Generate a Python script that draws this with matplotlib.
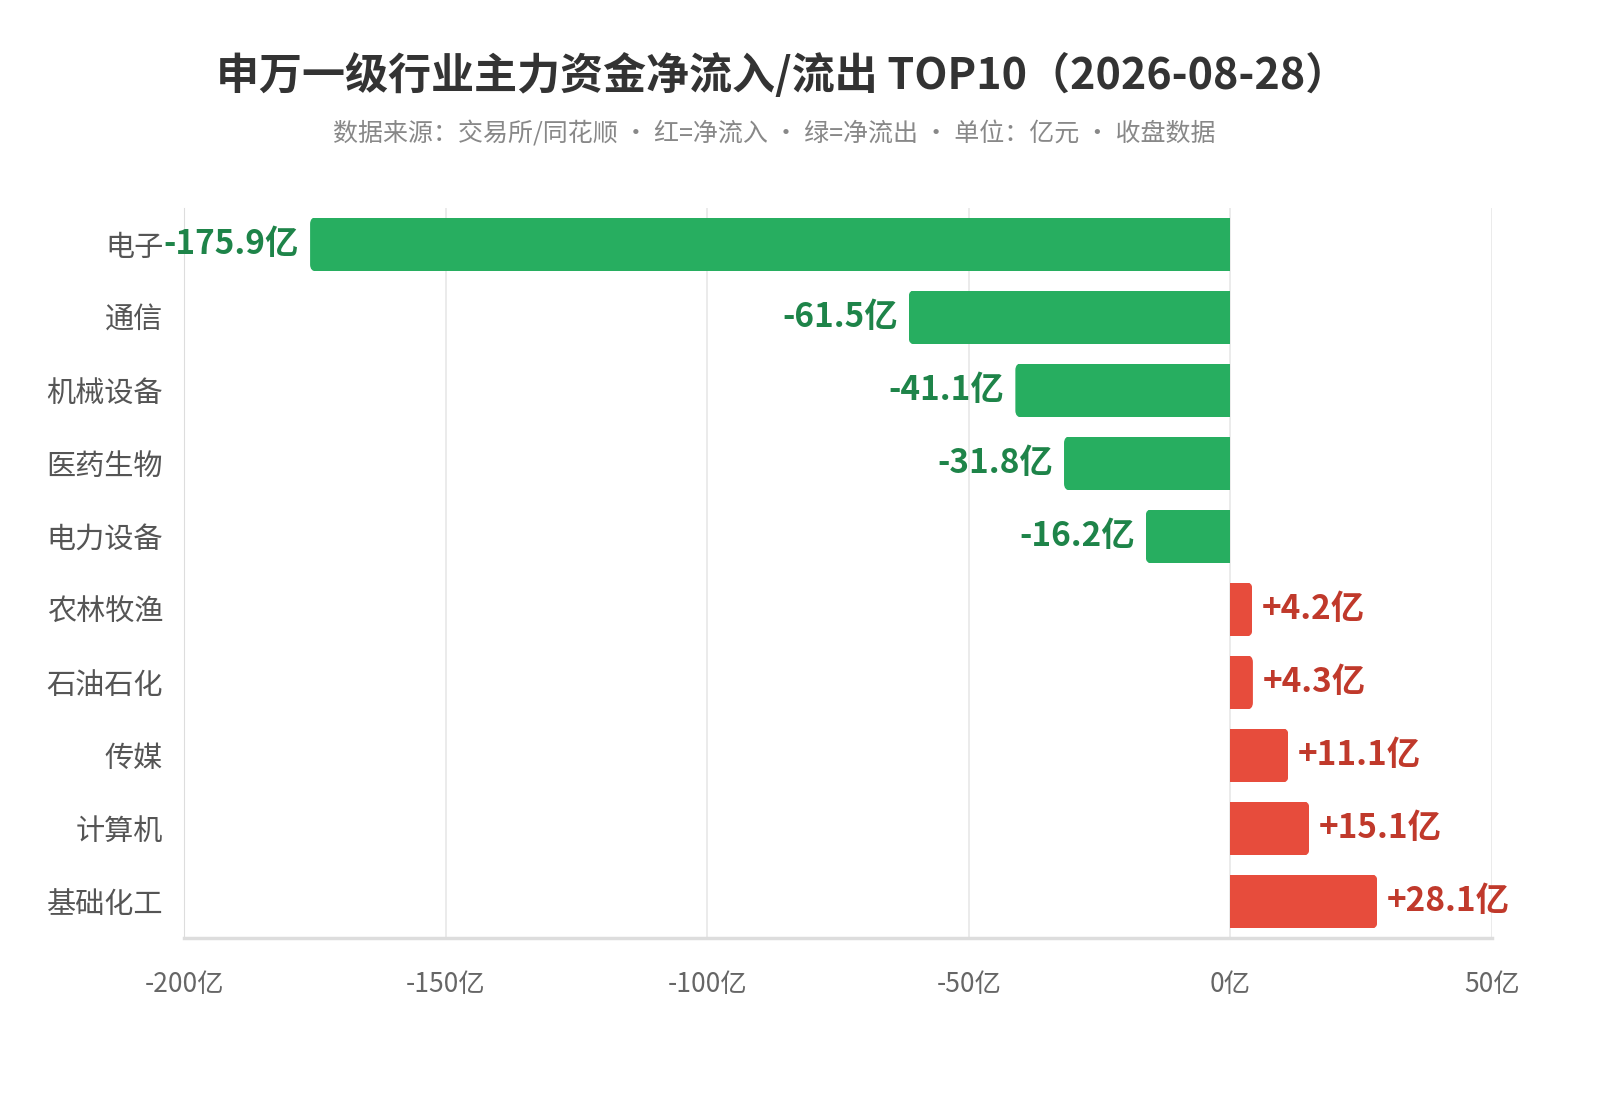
import matplotlib
matplotlib.use("Agg")
import matplotlib.pyplot as plt
from matplotlib.patches import FancyBboxPatch, BoxStyle

plt.rcParams['font.family'] = ['Noto Sans CJK SC', 'DejaVu Sans']

# data, top to bottom
industries = ["电子", "通信", "机械设备", "医药生物", "电力设备",
              "农林牧渔", "石油石化", "传媒", "计算机", "基础化工"]
net_flow = [-175.9, -61.5, -41.1, -31.8, -16.2, 4.2, 4.3, 11.1, 15.1, 28.1]
x_ticks = [-200, -150, -100, -50, 0, 50]

green, green_txt = "#27ae60", "#1e8449"
red, red_txt = "#e74c3c", "#c0392b"

fig = plt.figure(figsize=(16, 11.2), dpi=100)
ax = fig.add_axes([0.115, 0.1625, 0.8175, 0.652])
ax.set_xlim(-200, 50)
ax.set_ylim(len(industries) - 0.5, -0.5)

ypos = list(range(len(industries)))
colors = [green if v < 0 else red for v in net_flow]
bar_h = 0.72

bars = ax.barh(ypos, net_flow, height=bar_h, color=colors, linewidth=0, zorder=3)

# round only the outer end: clip each bar to a rounded box that runs past zero
fig.canvas.draw()
bb = ax.get_window_extent()
x_per_px = 250 / bb.width
y_per_px = 10 / bb.height
extra = 10 * x_per_px
for b, y, v in zip(bars, ypos, net_flow):
    if v < 0:
        x0, w = v, -v + extra
    else:
        x0, w = -extra, v + extra
    clip = FancyBboxPatch((x0, y - bar_h / 2 - y_per_px), w, bar_h + 2 * y_per_px,
                          boxstyle=BoxStyle.Round(pad=0, rounding_size=7 * x_per_px),
                          mutation_aspect=y_per_px / x_per_px,
                          transform=ax.transData, facecolor="none", edgecolor="none")
    b.set_clip_path(clip)

for y, v in zip(ypos, net_flow):
    if v < 0:
        ax.annotate(f"{v:.1f}亿", (v, y), xytext=(-8, 0), textcoords="offset points",
                    ha="right", va="center", fontsize=24, fontweight="bold",
                    color=green_txt, zorder=4)
    else:
        ax.annotate(f"+{v:.1f}亿", (v, y), xytext=(7, 0), textcoords="offset points",
                    ha="left", va="center", fontsize=24, fontweight="bold",
                    color=red_txt, zorder=4)

ax.set_yticks(ypos)
ax.set_yticklabels(industries, fontsize=21, color="#555555")
ax.set_xticks(x_ticks)
ax.set_xticklabels([f"{t}亿" for t in x_ticks], fontsize=19, color="#666666")
ax.tick_params(axis="y", length=0, pad=15)
ax.tick_params(axis="x", length=0, pad=24)

ax.grid(axis="x", color="#e8e8e8", linewidth=1.2, zorder=0)
for s in ["top", "right"]:
    ax.spines[s].set_visible(False)
ax.spines["left"].set_color("#dddddd")
ax.spines["bottom"].set_color("#dddddd")
ax.spines["bottom"].set_linewidth(2.5)

fig.text(0.489, 0.933, "申万一级行业主力资金净流入/流出 TOP10（2026-08-28）",
         ha="center", va="center", fontsize=31, fontweight="bold", color="#333333")
fig.text(0.484, 0.880, "数据来源：交易所/同花顺 · 红=净流入 · 绿=净流出 · 单位：亿元 · 收盘数据",
         ha="center", va="center", fontsize=18, color="#888888")

fig.savefig("out.png", dpi=100, facecolor="white")
